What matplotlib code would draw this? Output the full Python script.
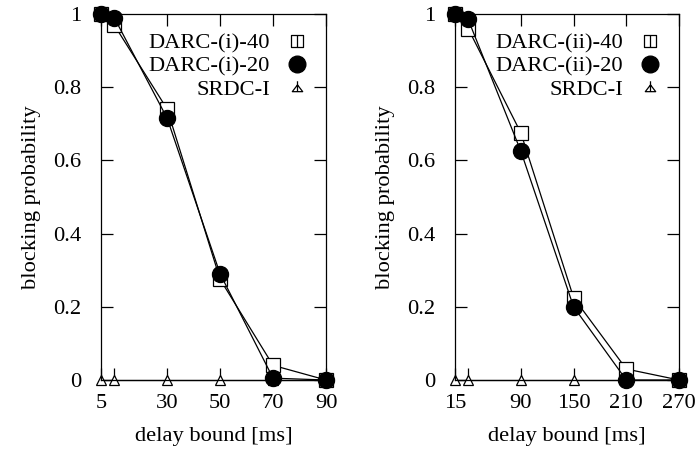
import matplotlib
matplotlib.use("Agg")
import matplotlib.pyplot as plt
from matplotlib.path import Path
from matplotlib.lines import Line2D

plt.rcParams['font.family'] = ['Liberation Serif', 'DejaVu Serif']

# ---- data ----
x_left = [5, 10, 30, 50, 70, 90]
darc_i_40 = [1.0, 0.97, 0.74, 0.275, 0.04, 0.0]
darc_i_20 = [1.0, 0.99, 0.715, 0.29, 0.005, 0.0]
srdc_left = [0, 0, 0, 0, 0, 0]
xticklabels_left = ["5", "", "30", "50", "70", "90"]

x_right = [15, 30, 90, 150, 210, 270]
darc_ii_40 = [1.0, 0.96, 0.675, 0.225, 0.03, 0.0]
darc_ii_20 = [1.0, 0.985, 0.625, 0.2, 0.0, 0.0]
srdc_right = [0, 0, 0, 0, 0, 0]
xticklabels_right = ["15", "", "90", "150", "210", "270"]

yticks = [0, 0.2, 0.4, 0.6, 0.8, 1.0]
yticklabels = ["0", "0.2", "0.4", "0.6", "0.8", "1"]

labels_left = ["DARC-(i)-40", "DARC-(i)-20", "SRDC-I"]
labels_right = ["DARC-(ii)-40", "DARC-(ii)-20", "SRDC-I"]

# legend markers
sq_bar = Path([(-1, -1), (1, -1), (1, 1), (-1, 1), (-1, -1), (0, -1), (0, 1)],
              [Path.MOVETO, Path.LINETO, Path.LINETO, Path.LINETO, Path.CLOSEPOLY,
               Path.MOVETO, Path.LINETO])
tri_bar = Path([(-1, -0.8), (1, -0.8), (0, 0.5), (-1, -0.8), (0, -0.8), (0, 1.2)],
               [Path.MOVETO, Path.LINETO, Path.LINETO, Path.CLOSEPOLY,
                Path.MOVETO, Path.LINETO])

fig = plt.figure(figsize=(6.97, 4.53), dpi=100)
ax1 = fig.add_axes([101/697, 1 - 380/453, 225/697, 366/453])
ax2 = fig.add_axes([455/697, 1 - 380/453, 224/697, 366/453])

FS = 16.2

def draw(ax, x, s40, s20, srdc, xtl, labels, xlim):
    ax.plot(x, s40, color='black', lw=0.9, marker='s', ms=10, mfc='white',
            mec='black', mew=0.9, clip_on=False, zorder=3)
    ax.plot(x, s20, color='black', lw=0.9, marker='o', ms=11.5, mfc='black',
            mec='black', clip_on=False, zorder=4)
    ax.plot(x, srdc, color='black', lw=0.9, marker='^', ms=7, mfc='white',
            mec='black', mew=0.9, clip_on=False, zorder=2)
    ax.set_xlim(*xlim)
    ax.set_ylim(0, 1)
    ax.set_xticks(x)
    ax.set_xticklabels(xtl)
    ax.set_yticks(yticks)
    ax.set_yticklabels(yticklabels)
    ax.tick_params(direction='in', length=8.5, width=0.9, top=True, right=True,
                   labelsize=FS)
    ax.tick_params(axis='y', pad=14)
    ax.tick_params(axis='x', pad=10)
    for sp in ax.spines.values():
        sp.set_linewidth(0.9)
    ax.set_xlabel("delay bound [ms]", fontsize=FS, labelpad=10)
    ax.set_ylabel("blocking probability", fontsize=FS, labelpad=9)
    handles = [
        Line2D([], [], ls='none', marker=sq_bar, ms=9, mfc='white', mec='black', mew=0.9),
        Line2D([], [], ls='none', marker='o', ms=12, mfc='black', mec='black'),
        Line2D([], [], ls='none', marker=tri_bar, ms=9, mfc='none', mec='black', mew=0.9),
    ]
    ax.legend(handles, labels, loc='upper right', bbox_to_anchor=(1.012, 1.003),
              frameon=False, markerfirst=False, fontsize=FS, handlelength=1.0,
              handletextpad=0.7, labelspacing=0.1, borderaxespad=0.5)

draw(ax1, x_left, darc_i_40, darc_i_20, srdc_left, xticklabels_left, labels_left, (5, 90))
draw(ax2, x_right, darc_ii_40, darc_ii_20, srdc_right, xticklabels_right, labels_right, (15, 270))

fig.savefig("out.png", dpi=100)
